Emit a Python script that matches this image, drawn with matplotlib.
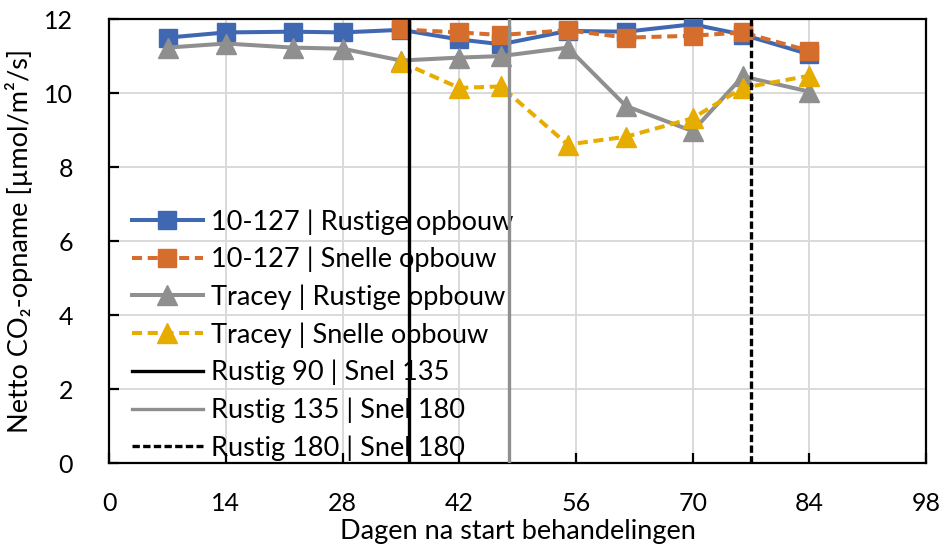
import matplotlib
matplotlib.use('Agg')
import matplotlib.pyplot as plt

plt.rcParams['font.family'] = ['Lato', 'DejaVu Sans']

# Data (days after start of treatments, net CO2 uptake)
days_rustig = [7, 14, 22, 28, 35, 42, 47, 55, 62, 70, 76, 84]
days_snel = [35, 42, 47, 55, 62, 70, 76, 84]

r127_rustig = [11.50, 11.64, 11.66, 11.64, 11.71, 11.45, 11.32, 11.68, 11.66, 11.86, 11.58, 11.05]
r127_snel = [11.72, 11.64, 11.57, 11.70, 11.50, 11.55, 11.64, 11.14]
tracey_rustig = [11.23, 11.34, 11.23, 11.20, 10.88, 10.96, 11.00, 11.23, 9.65, 8.97, 10.45, 10.04]
tracey_snel = [10.84, 10.14, 10.18, 8.61, 8.82, 9.32, 10.14, 10.47]

switch_days = [36, 48, 77]
switch_labels = ['Rustig 90 | Snel 135', 'Rustig 135 | Snel 180', 'Rustig 180 | Snel 180']

BLUE = '#4068B2'
ORANGE = '#D56D2C'
GRAY = '#8F8F8F'
GOLD = '#E6AC00'

fig = plt.figure(figsize=(9.42, 5.46), dpi=100)
ax = fig.add_axes([0.116, 0.152, 0.867, 0.813])

ax.plot(days_rustig, r127_rustig, color=BLUE, lw=2.9, marker='s', ms=13.5,
        label='10-127 | Rustige opbouw', zorder=4)
ax.plot(days_snel, r127_snel, color=ORANGE, lw=2.9, ls=(0, (2.5, 1.4)), marker='s', ms=13.5,
        label='10-127 | Snelle opbouw', zorder=5)
ax.plot(days_rustig, tracey_rustig, color=GRAY, lw=2.9, marker='^', ms=14,
        label='Tracey | Rustige opbouw', zorder=4)
ax.plot(days_snel, tracey_snel, color=GOLD, lw=2.9, ls=(0, (2.5, 1.4)), marker='^', ms=14,
        label='Tracey | Snelle opbouw', zorder=5)

ax.axvline(switch_days[0], color='black', lw=2.4, label=switch_labels[0], zorder=6)
ax.axvline(switch_days[1], color=GRAY, lw=2.4, label=switch_labels[1], zorder=6)
ax.axvline(switch_days[2], color='black', lw=2.4, ls=(0, (2.2, 1.0)), label=switch_labels[2], zorder=6)

ax.set_xlim(0, 98)
ax.set_ylim(0, 12)
ax.set_xticks(range(0, 99, 14))
ax.set_yticks(range(0, 13, 2))
ax.grid(True, color='#D9D9D9', lw=1.4)
ax.set_axisbelow(True)
for s in ax.spines.values():
    s.set_linewidth(1.6)
ax.tick_params(direction='in', length=7, width=1.6, labelsize=18)
ax.tick_params(axis='x', pad=21)
ax.tick_params(axis='y', pad=26)

ax.set_xlabel('Dagen na start behandelingen', fontsize=19.5, labelpad=3)
ax.set_ylabel('Netto CO₂-opname [µmol/m²/s]', fontsize=19.5, labelpad=8)

ax.legend(loc='upper left', bbox_to_anchor=(0.028, 0.572), frameon=False, fontsize=19.5,
          handlelength=2.6, handletextpad=0.3, labelspacing=0.45, borderpad=0, borderaxespad=0)

fig.savefig('out.png', dpi=100)
